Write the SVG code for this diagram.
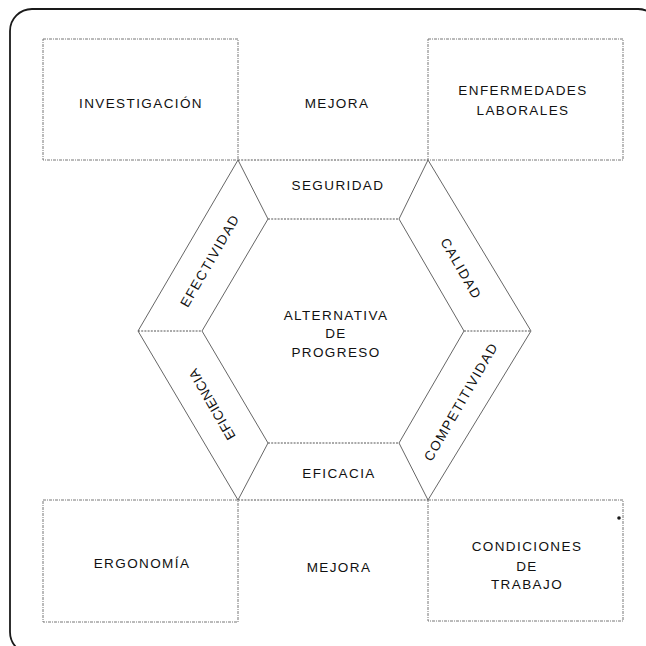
<svg xmlns="http://www.w3.org/2000/svg" width="646" height="646" viewBox="0 0 646 646">
  <style>
    .lbl { font-family: "Liberation Sans", Arial, sans-serif; font-size: 13.5px; letter-spacing: 1.4px; fill: #111; text-anchor: middle; }
    .box { fill: none; stroke: #777; stroke-width: 1; stroke-dasharray: 3 1 1 1; }
    .edge { fill: none; stroke: #555; stroke-width: 0.9; }
    .dot { fill: none; stroke: #555; stroke-width: 1; stroke-dasharray: 2 1.2; }
    .frame { fill: none; stroke: #1a1a1a; stroke-width: 1.8; }
  </style>

  <rect width="646" height="646" fill="#ffffff"/>

  <!-- outer rounded frame -->
  <rect class="frame" x="10" y="9" width="650" height="645" rx="22" ry="22"/>

  <!-- hexagon lines: outer ring, inner ring and spokes -->
  <g id="connectors">
    <path class="edge" d="M238,160 L138,331 L238,500 M428,160 L531,331 L428,500"/>
    <path class="dot" d="M238,160 H428 M238,500 H428"/>
    <path class="edge" d="M268,219 L202,331 L268,443 M399,219 L464,331 L399,443"/>
    <path class="dot" d="M268,219 H399 M268,443 H399"/>
    <path class="edge" d="M238,160 L268,219 M428,160 L399,219 M238,500 L268,443 M428,500 L399,443"/>
    <path class="dot" d="M138,331 H202 M464,331 H531"/>
  </g>

  <g id="investigacion">
    <rect class="box" x="43" y="39" width="195" height="121"/>
    <text class="lbl" x="141" y="108">INVESTIGACIÓN</text>
  </g>
  <g id="mejora-top">
    <text class="lbl" x="337" y="108">MEJORA</text>
  </g>
  <g id="enfermedades">
    <rect class="box" x="428" y="39" width="195" height="121"/>
    <text class="lbl" x="523" y="95">ENFERMEDADES</text>
    <text class="lbl" x="523" y="115">LABORALES</text>
  </g>

  <g id="seguridad">
    <text class="lbl" x="338" y="190">SEGURIDAD</text>
  </g>
  <g id="efectividad">
    <text class="lbl" transform="translate(214,263) rotate(-60)">EFECTIVIDAD</text>
  </g>
  <g id="calidad">
    <text class="lbl" transform="translate(457,271) rotate(60)">CALIDAD</text>
  </g>
  <g id="eficiencia">
    <text class="lbl" style="letter-spacing:0.4px" transform="translate(216,402) rotate(-120)">EFICIENCIA</text>
  </g>
  <g id="competitividad">
    <text class="lbl" transform="translate(465,404) rotate(-60)">COMPETITIVIDAD</text>
  </g>
  <g id="eficacia">
    <text class="lbl" x="339" y="478">EFICACIA</text>
  </g>

  <g id="alternativa">
    <text class="lbl" x="336" y="320">ALTERNATIVA</text>
    <text class="lbl" x="336" y="338">DE</text>
    <text class="lbl" x="336" y="357">PROGRESO</text>
  </g>

  <g id="ergonomia">
    <rect class="box" x="43" y="500" width="195" height="122"/>
    <text class="lbl" x="142" y="568">ERGONOMÍA</text>
  </g>
  <g id="mejora-bottom">
    <text class="lbl" x="339" y="572">MEJORA</text>
  </g>
  <g id="condiciones">
    <rect class="box" x="428" y="500" width="195" height="121"/>
    <text class="lbl" x="527" y="551">CONDICIONES</text>
    <text class="lbl" x="527" y="571">DE</text>
    <text class="lbl" x="527" y="589">TRABAJO</text>
    <circle cx="619" cy="518" r="1.8" fill="#1a1a1a"/>
  </g>
</svg>
